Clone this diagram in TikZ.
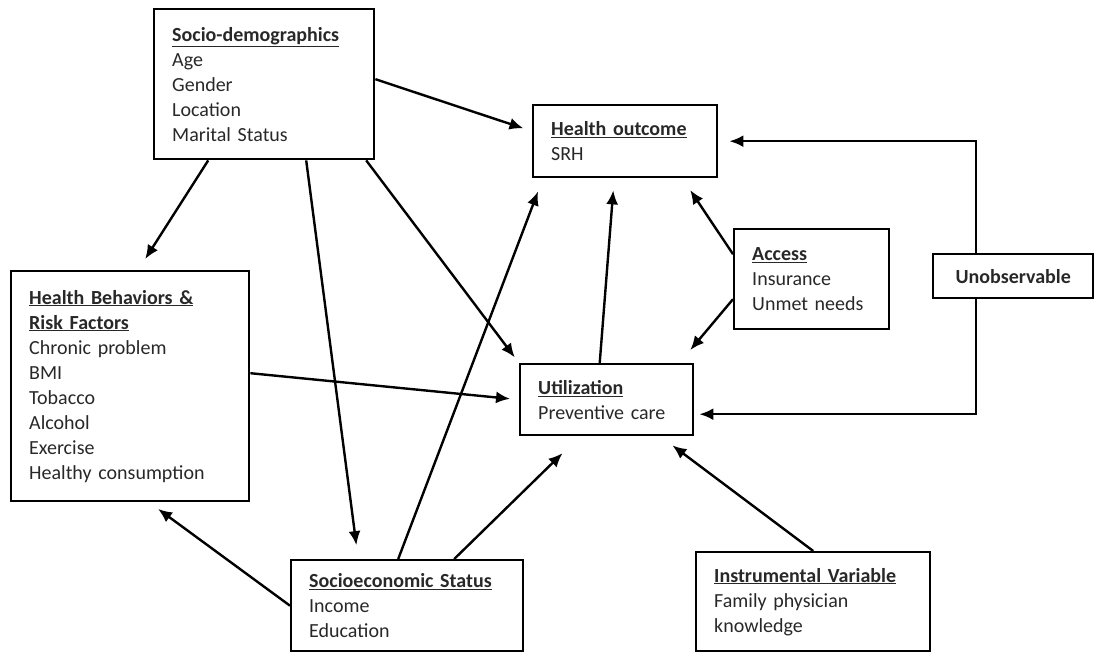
\documentclass[tikz,border=0pt]{standalone}
\usepackage{fontspec}
\setmainfont{Carlito}
\usetikzlibrary{arrows.meta}

\definecolor{txtgray}{RGB}{40,40,40}

\begin{document}
\begin{tikzpicture}[x=1pt,y=-1pt,
    box/.style={draw, line width=2.4pt, anchor=north west, align=left, text=txtgray,
      inner xsep=18pt, inner ysep=0pt, font=\fontsize{20}{25}\selectfont},
    arr/.style={line width=2.4pt, -{Latex[length=14pt,width=12pt]}},
  ]
  \useasboundingbox (0,0) rectangle (1099,658);

  % boxes
  \node[box, text width=184pt, minimum height=150pt] (socio) at (153,8)
    {\underline{\textbf{Socio-demographics}}\\Age\\Gender\\Location\\Marital Status};
  \node[box, text width=148pt, minimum height=72pt] (health) at (532,104)
    {\underline{\textbf{Health outcome}}\\SRH};
  \node[box, text width=202pt, minimum height=230pt] (hb) at (10,270)
    {\underline{\textbf{Health Behaviors \&}}\\\underline{\textbf{Risk Factors}}\\Chronic problem\\BMI\\Tobacco\\Alcohol\\Exercise\\Healthy consumption};
  \node[box, text width=137pt, minimum height=71pt] (util) at (519,363)
    {\underline{\textbf{Utilization}}\\Preventive care};
  \node[box, text width=119pt, minimum height=100pt] (access) at (733,228)
    {\underline{\textbf{Access}}\\Insurance\\Unmet needs};
  \node[box, align=center, text width=124pt, minimum height=44pt] (unobs) at (932,253)
    {\textbf{Unobservable}};
  \node[box, text width=196pt, minimum height=91pt] (ses) at (290,559)
    {\underline{\textbf{Socioeconomic Status}}\\Income\\Education};
  \node[box, text width=198pt, minimum height=99pt] (iv) at (695,551)
    {\underline{\textbf{Instrumental Variable}}\\Family physician\\knowledge};

  % arrows
  \draw[arr, shorten >=9pt] ([yshift=5pt]socio.east) -- ([yshift=10pt]health.west);
  \draw[arr, shorten >=13pt] ([xshift=-56pt]socio.south) -- ([xshift=8pt]hb.north);
  \draw[arr, shorten >=14pt] ([xshift=42pt]socio.south) -- ([xshift=-49pt]ses.north);
  \draw[arr, shorten >=7pt] ([xshift=102pt]socio.south) -- (util.north west);
  \draw[arr, shorten >=9pt] ([yshift=13pt]hb.east) -- (util.west);
  \draw[arr, shorten >=11pt] (ses.west) -- ([xshift=19pt]hb.south);
  \draw[arr, shorten >=14pt] ([xshift=-9pt]ses.north) -- ([xshift=11pt]health.south west);
  \draw[arr, shorten >=24pt] ([xshift=47pt]ses.north) -- ([xshift=-27pt]util.south);
  \draw[arr, shorten >=12pt] ([xshift=-7pt]util.north) -- ([xshift=-11pt]health.south);
  \draw[arr, shorten >=14pt] ([yshift=25pt]access.west) -- ([xshift=-36pt]health.south east);
  \draw[arr, shorten >=17pt] ([yshift=-20pt]access.west) -- ([xshift=-15pt]util.north east);
  \draw[arr, shorten >=15pt] (iv.north) -- ([xshift=-34pt]util.south east);

  % unobservable
  \draw[arr, shorten >=11pt] ([xshift=-37pt]unobs.north) |- (health.east);
  \draw[arr, shorten >=5pt] ([xshift=-37pt]unobs.south) |- ([yshift=-14.5pt]util.east);
\end{tikzpicture}
\end{document}
